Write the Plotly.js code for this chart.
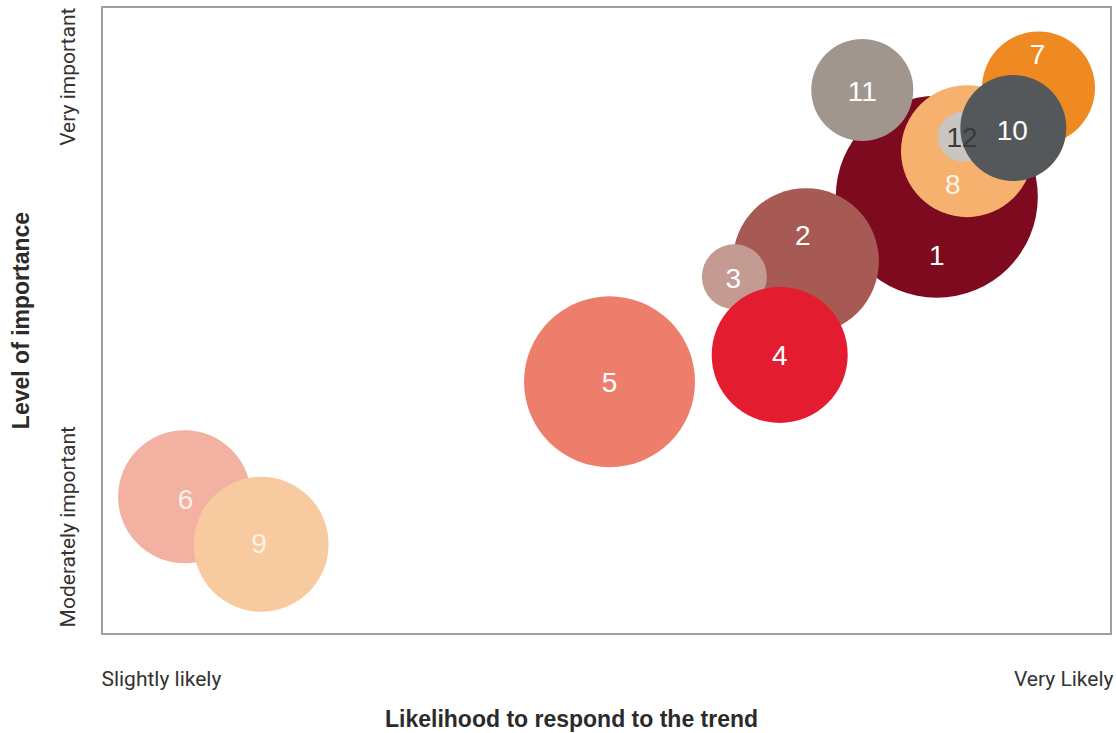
<!DOCTYPE html>
<html>
<head>
<meta charset="utf-8">
<script src="https://cdn.plot.ly/plotly-3.0.1.min.js"></script>
<style>html,body{margin:0;padding:0;background:#fff;}#chart{width:1116px;height:733px;}</style>
</head>
<body>
<div id="chart"></div>
<script>
// Trend bubbles (drawing order: later ones sit on top)
const trendIds   = ['1','2','3','4','5','6','9','11','7','8','12','10'];
const likelihood = [8.28, 6.98, 6.27, 6.72, 5.03, 0.81, 1.57, 7.54, 9.29, 8.58, 8.54, 9.04];
const importance = [6.98, 5.95, 5.70, 4.45, 4.02, 2.18, 1.42, 8.69, 8.72, 7.71, 7.94, 8.08];
const bubbleSize = [202, 146, 65, 136, 171, 133, 135, 102, 113, 132, 50, 106];
const bubbleColors = ['#7e0a1f','#a65a53','#c49b93','#e31d2f','#ee7e6c','#f3b1a2','#f7caa0','#a0968e','#ef8a22','#f5b16d','#c9c5c1','#54585b'];

// Label anchor points for the trend numbers
const labelX = [8.28, 6.95, 6.26, 6.72, 5.03, 0.82, 1.55, 7.54, 9.28, 8.44, 8.53, 9.03];
const labelY = [6.00, 6.32, 5.63, 4.40, 3.97, 2.10, 1.39, 8.62, 9.22, 7.14, 7.89, 8.00];
const labelColors = ['#ffffff','#ffffff','#ffffff','#ffffff','#ffffff','#fbeee9','#fdf1e4','#ffffff','#ffffff','#fdf3e6','#3a3a3a','#ffffff'];

// Axis tick labels
const xTickVals = [0.58, 9.54];
const xTickText = ['Slightly likely', 'Very Likely'];
const yTickVals = [1.65, 8.85];
const yTickText = ['Moderately important', 'Very important'];

// Axis titles
const xTitle = 'Likelihood to respond to the trend';
const yTitle = 'Level of importance';

const bubbles = {
  type: 'scatter',
  mode: 'markers',
  x: likelihood,
  y: importance,
  marker: {
    size: bubbleSize,
    sizemode: 'diameter',
    sizeref: 1,
    color: bubbleColors,
    opacity: 1,
    line: {width: 0}
  },
  hoverinfo: 'skip',
  showlegend: false
};

const labels = {
  type: 'scatter',
  mode: 'text',
  x: labelX,
  y: labelY,
  text: trendIds,
  textposition: 'middle center',
  textfont: {family: 'Liberation Sans, Arial, sans-serif', size: 28, color: labelColors},
  hoverinfo: 'skip',
  showlegend: false
};

const tickFont = {family: 'Roboto, Liberation Sans Narrow, Arial Narrow, sans-serif', size: 21, color: '#333333'};
const titleFont = {family: 'Liberation Sans, Arial, sans-serif', size: 23, color: '#2b2b2b'};

const layout = {
  width: 1116,
  height: 733,
  margin: {l: 103, r: 6, t: 8, b: 100},
  paper_bgcolor: '#ffffff',
  plot_bgcolor: '#ffffff',
  xaxis: {
    range: [0, 10],
    showgrid: false,
    zeroline: false,
    showline: true,
    mirror: true,
    linecolor: '#a0a0a0',
    linewidth: 2,
    tickvals: xTickVals,
    ticktext: xTickText,
    ticks: 'outside',
    ticklen: 26,
    tickcolor: 'rgba(0,0,0,0)',
    tickfont: tickFont,
    ticklabeloverflow: 'allow',
    fixedrange: true
  },
  yaxis: {
    range: [0, 10],
    showgrid: false,
    zeroline: false,
    showline: true,
    mirror: true,
    linecolor: '#a0a0a0',
    linewidth: 2,
    tickvals: yTickVals,
    ticktext: yTickText,
    tickangle: -90,
    ticks: 'outside',
    ticklen: 18,
    tickcolor: 'rgba(0,0,0,0)',
    tickfont: tickFont,
    ticklabeloverflow: 'allow',
    fixedrange: true,
    title: {text: '<b>' + yTitle + '</b>', font: titleFont, standoff: 20}
  },
  annotations: [{
    xref: 'paper', yref: 'paper',
    x: 0.465, y: 0, yshift: -86,
    xanchor: 'center', yanchor: 'middle',
    text: '<b>' + xTitle + '</b>',
    showarrow: false,
    font: titleFont
  }]
};

Plotly.newPlot('chart', [bubbles, labels], layout, {displayModeBar: false, staticPlot: true});
</script>
</body>
</html>
